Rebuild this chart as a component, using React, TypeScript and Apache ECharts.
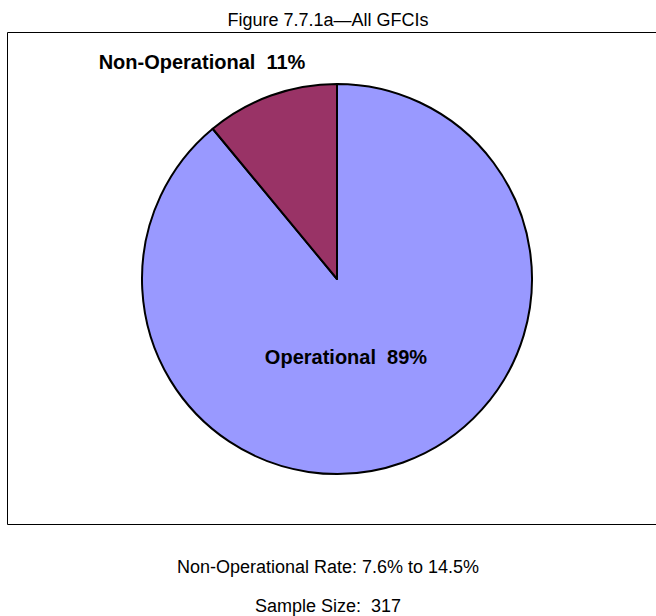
import React, { useEffect, useRef } from "react";
import * as echarts from "echarts";

const titleText = "Figure 7.7.1a—All GFCIs";
const categories = ["Operational", "Non-Operational"];
const values = [89, 11];
const colors = ["#9999FF", "#993366"];
const footerLines = ["Non-Operational Rate: 7.6% to 14.5%", "Sample Size:  317"];

export default function App() {
  const ref = useRef<HTMLDivElement>(null);
  useEffect(() => {
    if (!ref.current) return;
    const chart = echarts.init(ref.current, null, { renderer: "svg" });
    const font = "'Liberation Sans', Arial, sans-serif";
    const labelPos: [number, number][] = [
      [346, 357],
      [202, 62],
    ];
    chart.setOption({
      animation: false,
      backgroundColor: "#ffffff",
      title: {
        text: titleText,
        left: "center",
        top: 6,
        textStyle: { fontFamily: font, fontSize: 18, fontWeight: "normal", color: "#000" },
      },
      graphic: [
        {
          type: "rect",
          shape: { x: 7.5, y: 32.5, width: 660, height: 492 },
          style: { fill: "none", stroke: "#000", lineWidth: 1 },
          z: 0,
        },
        ...categories.map((c, i) => ({
          type: "text",
          x: labelPos[i][0],
          y: labelPos[i][1],
          z: 10,
          style: {
            text: `${c}  ${values[i]}%`,
            fontFamily: font,
            fontSize: 20,
            fontWeight: "bold",
            fill: "#000",
            align: "center",
            verticalAlign: "middle",
          },
        })),
        ...footerLines.map((t, i) => ({
          type: "text",
          x: 328,
          y: 567 + i * 39,
          style: {
            text: t,
            fontFamily: font,
            fontSize: 18,
            fill: "#000",
            align: "center",
            verticalAlign: "middle",
          },
        })),
      ],
      series: [
        {
          type: "pie",
          center: [337, 279],
          radius: 195,
          startAngle: 90,
          clockwise: true,
          silent: true,
          label: { show: false },
          labelLine: { show: false },
          itemStyle: { borderColor: "#000", borderWidth: 2 },
          data: categories.map((c, i) => ({
            name: c,
            value: values[i],
            itemStyle: { color: colors[i] },
          })),
        },
      ],
    });
    return () => chart.dispose();
  }, []);
  return (
    <div
      ref={ref}
      style={{ position: "absolute", left: 0, top: 0, width: 656, height: 616 }}
    />
  );
}
